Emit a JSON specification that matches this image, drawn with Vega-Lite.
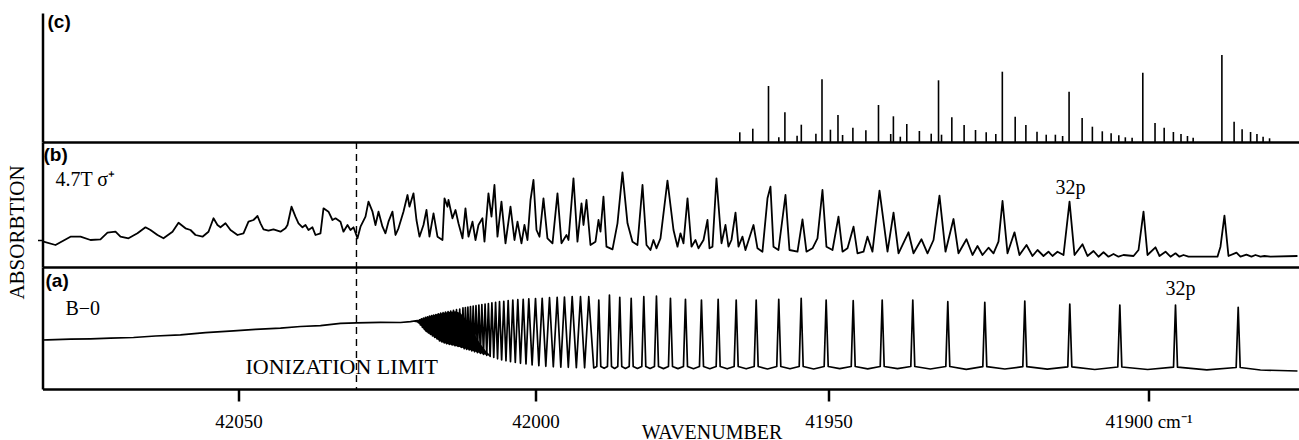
{
 "$schema": "https://vega.github.io/schema/vega-lite/v6.json",
 "background": "white",
 "autosize": {"type": "pad"},
 "padding": {"left": 6.5, "top": 13, "right": 0, "bottom": 0},
 "spacing": 0,
 "bounds": "flush",
 "resolve": {"scale": {"x": "independent", "y": "independent"}},
 "config": {
  "view": {"stroke": null},
  "font": "Liberation Serif",
  "axis": {"domainColor": "black", "domainWidth": 2.5, "tickColor": "black", "grid": false, "labelColor": "black", "titleColor": "black", "titleFontWeight": "normal", "labelFont": "Liberation Serif", "titleFont": "Liberation Serif"}
 },
 "datasets": {
  "c": [
   {"wn":41965.14,"v":9.7},{"wn":41962.92,"v":13.3},{"wn":41960.24,"v":56},{"wn":41958.48,"v":4.7},{"wn":41957.44,"v":29.7},
   {"wn":41955.36,"v":6.3},{"wn":41954.64,"v":17.3},{"wn":41952.15,"v":8.3},{"wn":41951.11,"v":62.7},{"wn":41949.70,"v":12.3},
   {"wn":41948.52,"v":27},{"wn":41947.80,"v":7},{"wn":41946.19,"v":14.3},{"wn":41944.16,"v":11.7},{"wn":41942.19,"v":37},
   {"wn":41940.28,"v":8},{"wn":41939.86,"v":25.7},{"wn":41938.78,"v":5.3},{"wn":41937.77,"v":18},{"wn":41935.80,"v":11},
   {"wn":41933.95,"v":8.3},{"wn":41932.81,"v":61.7},{"wn":41932.34,"v":7.3},{"wn":41930.73,"v":24.7},{"wn":41928.81,"v":17},
   {"wn":41927.03,"v":12},{"wn":41925.36,"v":9.7},{"wn":41923.86,"v":8},{"wn":41922.84,"v":70.3},{"wn":41920.83,"v":25.3},
   {"wn":41919.16,"v":17},{"wn":41917.42,"v":10.3},{"wn":41915.98,"v":7.3},{"wn":41914.55,"v":7.3},{"wn":41913.42,"v":6},
   {"wn":41912.41,"v":50.3},{"wn":41910.37,"v":24},{"wn":41908.77,"v":15.3},{"wn":41907.22,"v":10.7},{"wn":41905.84,"v":8.7},
   {"wn":41904.64,"v":6.7},{"wn":41903.62,"v":4.7},{"wn":41902.56,"v":4.3},{"wn":41900.89,"v":69.3},{"wn":41898.98,"v":19},
   {"wn":41897.55,"v":14.3},{"wn":41896.11,"v":10},{"wn":41894.92,"v":8},{"wn":41893.91,"v":6},{"wn":41893.02,"v":4.3},
   {"wn":41888.53,"v":87},{"wn":41886.62,"v":20.3},{"wn":41885.37,"v":12.7},{"wn":41884.05,"v":10},{"wn":41883.05,"v":8},
   {"wn":41882.09,"v":5.3},{"wn":41881.08,"v":3.7}
  ],
  "b": [
   {"wn":42082.83,"v":25.3},{"wn":42080.81,"v":22},{"wn":42078.29,"v":30.3},{"wn":42076.60,"v":30.3},{"wn":42074.92,"v":27},
   {"wn":42073.24,"v":27.7},{"wn":42072.06,"v":34.3},{"wn":42070.71,"v":35.3},{"wn":42069.87,"v":30.3},{"wn":42068.52,"v":28.7},
   {"wn":42067.01,"v":33.7},{"wn":42065.66,"v":39.7},{"wn":42064.82,"v":37},{"wn":42063.64,"v":32},{"wn":42062.63,"v":28.7},
   {"wn":42061.11,"v":35.3},{"wn":42060.10,"v":44.3},{"wn":42058.93,"v":38.7},{"wn":42058.08,"v":37},{"wn":42057.24,"v":32},
   {"wn":42056.06,"v":30.3},{"wn":42055.05,"v":35.3},{"wn":42054.21,"v":48.7},{"wn":42053.54,"v":42},{"wn":42053.03,"v":39.7},
   {"wn":42052.19,"v":43.7},{"wn":42051.35,"v":37},{"wn":42050.17,"v":32},{"wn":42049.16,"v":33.7},{"wn":42048.32,"v":45.3},
   {"wn":42047.48,"v":47},{"wn":42046.80,"v":51},{"wn":42046.30,"v":43.7},{"wn":42045.79,"v":37.7},{"wn":42044.95,"v":36.3},
   {"wn":42044.11,"v":37.7},{"wn":42042.93,"v":35.3},{"wn":42042.09,"v":38.7},{"wn":42041.75,"v":42},{"wn":42041.08,"v":60.3},
   {"wn":42040.41,"v":50.3},{"wn":42039.90,"v":43.7},{"wn":42039.23,"v":39.7},{"wn":42038.72,"v":42},{"wn":42038.22,"v":37},
   {"wn":42037.55,"v":39.7},{"wn":42037.04,"v":32},{"wn":42036.20,"v":33.7},{"wn":42035.69,"v":58.7},{"wn":42034.85,"v":55.3},
   {"wn":42034.18,"v":47},{"wn":42033.67,"v":48.7},{"wn":42032.83,"v":45.3},{"wn":42032.33,"v":35.3},{"wn":42031.65,"v":42},
   {"wn":42031.15,"v":37},{"wn":42030.64,"v":39.7},{"wn":42029.97,"v":28.7},{"wn":42029.46,"v":40.3},{"wn":42028.62,"v":50.3},
   {"wn":42028.12,"v":65.3},{"wn":42027.44,"v":55.3},{"wn":42026.94,"v":42},{"wn":42026.43,"v":55.3},{"wn":42025.76,"v":40.3},
   {"wn":42025.26,"v":33.7},{"wn":42024.75,"v":45.3},{"wn":42024.08,"v":55.3},{"wn":42023.57,"v":32},{"wn":42023.07,"v":38.7},
   {"wn":42022.23,"v":55.3},{"wn":42021.55,"v":72},{"wn":42021.22,"v":60.3},{"wn":42020.54,"v":73.7},{"wn":42020.04,"v":47},
   {"wn":42019.53,"v":30.3},{"wn":42018.86,"v":42},{"wn":42018.35,"v":57},{"wn":42017.85,"v":30.3},{"wn":42017.17,"v":53.7},
   {"wn":42016.50,"v":30.3},{"wn":42015.66,"v":27},{"wn":42015.32,"v":68.7},{"wn":42014.82,"v":60.3},{"wn":42014.65,"v":67},
   {"wn":42013.98,"v":48.7},{"wn":42013.47,"v":57},{"wn":42012.97,"v":43.7},{"wn":42012.29,"v":28.7},{"wn":42011.79,"v":58.7},
   {"wn":42011.28,"v":30.3},{"wn":42010.61,"v":45.3},{"wn":42010.10,"v":27},{"wn":42009.60,"v":42},{"wn":42008.93,"v":48.7},
   {"wn":42008.59,"v":25.3},{"wn":42007.92,"v":73.7},{"wn":42007.41,"v":50.3},{"wn":42006.91,"v":82},{"wn":42006.40,"v":30.3},
   {"wn":42005.73,"v":65.3},{"wn":42005.05,"v":23.7},{"wn":42004.21,"v":60.3},{"wn":42003.54,"v":27},{"wn":42003.03,"v":45.3},
   {"wn":42002.36,"v":23.7},{"wn":42001.86,"v":42},{"wn":42001.35,"v":27},{"wn":42000.84,"v":67},{"wn":42000.34,"v":87},
   {"wn":41999.83,"v":37},{"wn":41999.32,"v":30.3},{"wn":41998.64,"v":68.7},{"wn":41997.96,"v":28.7},{"wn":41997.10,"v":23.7},
   {"wn":41996.25,"v":73.7},{"wn":41995.57,"v":23.7},{"wn":41994.71,"v":32},{"wn":41994.37,"v":27},{"wn":41993.52,"v":88.7},
   {"wn":41992.84,"v":25.3},{"wn":41992.15,"v":63.7},{"wn":41991.81,"v":42},{"wn":41991.30,"v":67},{"wn":41990.62,"v":22},
   {"wn":41989.76,"v":25.3},{"wn":41989.25,"v":47},{"wn":41988.91,"v":35.3},{"wn":41988.40,"v":70.3},{"wn":41987.89,"v":20.3},
   {"wn":41986.86,"v":17.7},{"wn":41986.01,"v":43.7},{"wn":41985.16,"v":94.7},{"wn":41984.30,"v":43.7},{"wn":41983.45,"v":25.3},
   {"wn":41982.60,"v":22},{"wn":41981.74,"v":82},{"wn":41981.06,"v":22},{"wn":41980.38,"v":17},{"wn":41979.87,"v":27},
   {"wn":41979.36,"v":18.7},{"wn":41978.67,"v":28.7},{"wn":41977.48,"v":86.3},{"wn":41976.45,"v":37},{"wn":41975.77,"v":20.3},
   {"wn":41975.26,"v":33.7},{"wn":41974.75,"v":23.7},{"wn":41974.06,"v":68.7},{"wn":41973.38,"v":20.3},{"wn":41972.70,"v":27},
   {"wn":41972.19,"v":18.7},{"wn":41971.33,"v":27},{"wn":41970.65,"v":47},{"wn":41970.31,"v":18.7},{"wn":41969.80,"v":20.3},
   {"wn":41969.12,"v":88.7},{"wn":41968.26,"v":23.7},{"wn":41967.58,"v":42},{"wn":41967.07,"v":20.3},{"wn":41966.56,"v":27},
   {"wn":41965.87,"v":54.3},{"wn":41965.36,"v":20.3},{"wn":41964.68,"v":30.3},{"wn":41964.17,"v":17},{"wn":41962.80,"v":42},
   {"wn":41962.12,"v":18.7},{"wn":41961.27,"v":15.3},{"wn":41960.41,"v":68.7},{"wn":41959.90,"v":80.3},{"wn":41959.39,"v":20.3},
   {"wn":41958.54,"v":17},{"wn":41957.34,"v":72},{"wn":41956.66,"v":17},{"wn":41955.29,"v":15.3},{"wn":41954.44,"v":47.7},
   {"wn":41953.76,"v":15.3},{"wn":41952.73,"v":18.7},{"wn":41951.88,"v":28.7},{"wn":41951.03,"v":77},{"wn":41950.35,"v":20.3},
   {"wn":41949.375,"v":17},{"wn":41948.44,"v":50.3},{"wn":41947.81,"v":15.3},{"wn":41947.03,"v":18.7},{"wn":41946.09,"v":40.3},
   {"wn":41945.47,"v":13.7},{"wn":41944.53,"v":15.3},{"wn":41943.91,"v":30.3},{"wn":41943.13,"v":15.3},{"wn":41942.03,"v":76.3},
   {"wn":41940.78,"v":15.3},{"wn":41939.84,"v":54.3},{"wn":41939.06,"v":13.7},{"wn":41937.50,"v":34.7},{"wn":41936.72,"v":13.7},
   {"wn":41935.47,"v":27.7},{"wn":41934.53,"v":13.7},{"wn":41933.59,"v":27},{"wn":41932.66,"v":71.3},{"wn":41931.72,"v":15.3},
   {"wn":41930.47,"v":48},{"wn":41929.69,"v":13.7},{"wn":41928.44,"v":27.7},{"wn":41927.50,"v":12},{"wn":41926.72,"v":21},
   {"wn":41925.94,"v":12},{"wn":41925.00,"v":19.3},{"wn":41924.22,"v":13.7},{"wn":41923.44,"v":25.3},{"wn":41922.81,"v":66},
   {"wn":41922.03,"v":13.7},{"wn":41920.94,"v":34.7},{"wn":41920.16,"v":12},{"wn":41919.06,"v":22},{"wn":41918.13,"v":11},
   {"wn":41917.34,"v":17},{"wn":41916.41,"v":11},{"wn":41915.63,"v":15.3},{"wn":41915.00,"v":11},{"wn":41914.22,"v":15.3},
   {"wn":41913.28,"v":12},{"wn":41912.34,"v":65.3},{"wn":41911.56,"v":12},{"wn":41910.31,"v":22.7},{"wn":41909.53,"v":11},
   {"wn":41908.59,"v":16},{"wn":41907.81,"v":10.3},{"wn":41907.03,"v":14.7},{"wn":41906.25,"v":10.3},{"wn":41905.47,"v":13},
   {"wn":41904.69,"v":10.3},{"wn":41903.91,"v":12},{"wn":41902.34,"v":11},{"wn":41901.56,"v":17},{"wn":41900.78,"v":55.3},
   {"wn":41900.16,"v":12},{"wn":41898.91,"v":19.7},{"wn":41898.28,"v":11},{"wn":41897.34,"v":15.3},{"wn":41896.56,"v":10.3},
   {"wn":41895.78,"v":13.7},{"wn":41895.16,"v":10.3},{"wn":41894.53,"v":12},{"wn":41893.75,"v":10.3},{"wn":41889.22,"v":10.3},
   {"wn":41888.75,"v":20.3},{"wn":41888.13,"v":51.3},{"wn":41887.50,"v":11},{"wn":41886.25,"v":14.3},{"wn":41885.63,"v":10.3},
   {"wn":41884.69,"v":12.3},{"wn":41883.91,"v":10.3},{"wn":41883.28,"v":12},{"wn":41882.50,"v":10.3},{"wn":41881.88,"v":11},
   {"wn":41880.94,"v":10.3},{"wn":41876.72,"v":11}
  ],
  "a": [
   {"wn":42083.00,"v":49},{"wn":42082.15,"v":49.2},{"wn":42078.29,"v":49.8},{"wn":42074.92,"v":50.2},{"wn":42071.55,"v":50.9},
   {"wn":42067.68,"v":51.5},{"wn":42063.98,"v":53},{"wn":42059.77,"v":54.1},{"wn":42055.56,"v":56.4},{"wn":42050.84,"v":58.2},
   {"wn":42047.14,"v":59.7},{"wn":42042.93,"v":60.8},{"wn":42039.57,"v":62.5},{"wn":42036.20,"v":63.4},{"wn":42032.83,"v":65.6},
   {"wn":42030.14,"v":66.2},{"wn":42026.10,"v":66.6},{"wn":42022.73,"v":66.5},{"wn":42021.05,"v":67.3},
   {"wn":42019.87,"v":68.5},{"wn":42019.70,"v":66.5},{"wn":42019.53,"v":69.2},{"wn":42019.36,"v":64},{"wn":42019.20,"v":70.2},
   {"wn":42019.03,"v":61.5},{"wn":42018.86,"v":70.8},{"wn":42018.69,"v":59.5},{"wn":42018.52,"v":71.6},{"wn":42018.35,"v":57.5},
   {"wn":42018.19,"v":72.2},{"wn":42018.02,"v":56},{"wn":42017.85,"v":72.8},{"wn":42017.68,"v":54.5},{"wn":42017.51,"v":73.3},
   {"wn":42017.34,"v":53},{"wn":42017.17,"v":73.8},{"wn":42016.97,"v":51.5},{"wn":42016.77,"v":74.5},{"wn":42016.57,"v":50},
   {"wn":42016.37,"v":75.1},{"wn":42016.16,"v":48},{"wn":42015.96,"v":75.8},{"wn":42015.76,"v":47},{"wn":42015.56,"v":76.3},
   {"wn":42015.36,"v":46},{"wn":42015.15,"v":76.9},{"wn":42014.94,"v":45.2},{"wn":42014.72,"v":77.4},{"wn":42014.50,"v":44.6},
   {"wn":42014.28,"v":77.9},{"wn":42014.04,"v":44},{"wn":42013.81,"v":78.6},{"wn":42013.55,"v":43.2},{"wn":42013.30,"v":79.3},
   {"wn":42013.03,"v":42.5},{"wn":42012.76,"v":80},{"wn":42012.49,"v":41.6},
   {"wn":42012.21,"v":81.1},{"wn":42012.01,"v":40.2},{"wn":42011.80,"v":81.5},{"wn":42011.59,"v":39.5},{"wn":42011.38,"v":82},
   {"wn":42011.16,"v":39},{"wn":42010.95,"v":82.5},{"wn":42010.72,"v":38},{"wn":42010.49,"v":83},{"wn":42010.26,"v":37.2},
   {"wn":42010.02,"v":83.3},{"wn":42009.78,"v":36.4},{"wn":42009.53,"v":83.9},{"wn":42009.28,"v":35.5},{"wn":42009.03,"v":84.5},
   {"wn":42008.76,"v":34.6},{"wn":42008.49,"v":85},{"wn":42008.21,"v":33.6},{"wn":42007.93,"v":85.5},{"wn":42007.64,"v":32.6},
   {"wn":42007.34,"v":86.2},{"wn":42007.03,"v":31.6},{"wn":42006.72,"v":86.6},{"wn":42006.39,"v":30.2},{"wn":42006.06,"v":87.3},
   {"wn":42005.70,"v":29},{"wn":42005.34,"v":87.7},{"wn":42004.97,"v":28.2},{"wn":42004.60,"v":88.4},{"wn":42004.21,"v":27.3},
   {"wn":42003.82,"v":88.9},{"wn":42003.40,"v":26.5},{"wn":42002.98,"v":89.3},{"wn":42002.53,"v":25.7},{"wn":42002.07,"v":89.6},
   {"wn":42001.60,"v":25},{"wn":42001.13,"v":90.2},{"wn":42000.57,"v":24},{"wn":42000.00,"v":90.5},{"wn":41999.43,"v":23.4},
   {"wn":41998.86,"v":90.7},{"wn":41998.24,"v":22.7},{"wn":41997.61,"v":91.3},{"wn":41996.96,"v":22.2},{"wn":41996.30,"v":91.7},
   {"wn":41995.68,"v":21.9},{"wn":41995.06,"v":92},{"wn":41994.40,"v":21.7},{"wn":41993.74,"v":92.5},{"wn":41993.03,"v":21.4},
   {"wn":41992.32,"v":92.3},{"wn":41991.62,"v":21.2},{"wn":41990.91,"v":92.3},{"wn":41990.06,"v":21},
   {"wn":41989.54,"v":22.5},{"wn":41989.20,"v":89},{"wn":41988.86,"v":22.5},{"wn":41988.29,"v":20.7},
   {"wn":41987.72,"v":22.5},{"wn":41987.38,"v":94},{"wn":41987.03,"v":22.5},{"wn":41986.50,"v":20.6},
   {"wn":41985.96,"v":22.5},{"wn":41985.62,"v":91.7},{"wn":41985.28,"v":22.5},{"wn":41984.65,"v":20.6},
   {"wn":41984.01,"v":22.5},{"wn":41983.67,"v":90.7},{"wn":41983.33,"v":22.5},{"wn":41982.60,"v":20.5},
   {"wn":41981.86,"v":22.5},{"wn":41981.52,"v":92.3},{"wn":41981.18,"v":22.5},{"wn":41980.44,"v":20.5},
   {"wn":41979.70,"v":22.5},{"wn":41979.36,"v":93},{"wn":41979.01,"v":22.5},{"wn":41978.16,"v":20.4},
   {"wn":41977.31,"v":22.5},{"wn":41976.97,"v":90.7},{"wn":41976.62,"v":22.5},{"wn":41975.69,"v":20.4},
   {"wn":41974.75,"v":22.5},{"wn":41974.41,"v":89.7},{"wn":41974.06,"v":22.5},{"wn":41973.04,"v":20.3},
   {"wn":41972.02,"v":22.5},{"wn":41971.68,"v":89},{"wn":41971.33,"v":22.5},{"wn":41970.25,"v":20.3},
   {"wn":41969.17,"v":22.5},{"wn":41968.83,"v":89.7},{"wn":41968.49,"v":22.5},{"wn":41967.29,"v":20.2},
   {"wn":41966.10,"v":22.5},{"wn":41965.75,"v":89},{"wn":41965.41,"v":22.5},{"wn":41964.05,"v":20.2},
   {"wn":41962.68,"v":22.5},{"wn":41962.34,"v":89},{"wn":41962.00,"v":22.5},{"wn":41960.41,"v":20},
   {"wn":41958.83,"v":22.5},{"wn":41958.49,"v":89.7},{"wn":41958.14,"v":22.5},{"wn":41956.57,"v":20.2},
   {"wn":41955.00,"v":22.5},{"wn":41954.66,"v":90.7},{"wn":41954.32,"v":22.5},{"wn":41952.53,"v":20},
   {"wn":41950.74,"v":22.5},{"wn":41950.40,"v":89},{"wn":41950.05,"v":22.5},{"wn":41948.25,"v":20.3},
   {"wn":41946.45,"v":22.5},{"wn":41946.14,"v":88.3},{"wn":41945.83,"v":22.5},{"wn":41943.875,"v":20.2},
   {"wn":41941.92,"v":22.5},{"wn":41941.61,"v":89},{"wn":41941.30,"v":22.5},{"wn":41939.22,"v":20.3},
   {"wn":41937.14,"v":22.5},{"wn":41936.83,"v":89},{"wn":41936.52,"v":22.5},{"wn":41934.09,"v":20},
   {"wn":41931.67,"v":22.5},{"wn":41931.36,"v":87.3},{"wn":41931.05,"v":22.5},{"wn":41928.47,"v":19.6},
   {"wn":41925.89,"v":22.3},{"wn":41925.58,"v":86.7},{"wn":41925.27,"v":22.3},{"wn":41922.45,"v":20},
   {"wn":41919.64,"v":22.3},{"wn":41919.33,"v":88},{"wn":41919.02,"v":22.3},{"wn":41915.81,"v":19.8},
   {"wn":41912.61,"v":22.2},{"wn":41912.30,"v":85},{"wn":41911.98,"v":22.2},{"wn":41908.39,"v":19.5},
   {"wn":41904.80,"v":22},{"wn":41904.48,"v":84},{"wn":41904.17,"v":22},{"wn":41900.13,"v":19.5},
   {"wn":41896.09,"v":21.8},{"wn":41895.78,"v":84},{"wn":41895.47,"v":21.8},{"wn":41890.88,"v":19.2},
   {"wn":41886.30,"v":21.5},{"wn":41885.98,"v":81.7},{"wn":41885.67,"v":21.5},{"wn":41882.50,"v":19},
   {"wn":41876.72,"v":18}
  ],
  "wedge": [
   {"wn":42020.71,"lo":67.3,"hi":67.8},{"wn":42019.87,"lo":66.5,"hi":68.5},{"wn":42019.36,"lo":64,"hi":70},
   {"wn":42018.52,"lo":57.5,"hi":71.6},{"wn":42017.68,"lo":54.5,"hi":73},{"wn":42016.84,"lo":51,"hi":74.5},
   {"wn":42016.00,"lo":47.5,"hi":75.6},{"wn":42015.15,"lo":45.5,"hi":76.4},{"wn":42014.31,"lo":44.2,"hi":77.2},
   {"wn":42013.47,"lo":43,"hi":77.8},{"wn":42012.63,"lo":41.8,"hi":76},{"wn":42011.79,"lo":40.3,"hi":70},
   {"wn":42010.95,"lo":38.8,"hi":62},{"wn":42010.10,"lo":37.3,"hi":53},{"wn":42009.26,"lo":35.8,"hi":45},
   {"wn":42008.42,"lo":34.3,"hi":38.5},{"wn":42007.57,"lo":32.8,"hi":33.5}
  ],
  "limit": [{"wn": 42030.14}],
  "notes": [
   {"panel":"c","kind":"tag","wn":42082.16,"v":120,"label":"(c)"},
   {"panel":"b","kind":"tag","wn":42082.83,"v":112,"label":"(b)"},
   {"panel":"a","kind":"tag","wn":42082.49,"v":108,"label":"(a)"},
   {"panel":"b","kind":"note","wn":42080.81,"v":87,"label":"4.7T  σ⁺"},
   {"panel":"b","kind":"note","wn":41914.53,"v":79,"label":"32p"},
   {"panel":"a","kind":"note","wn":42079.13,"v":80,"label":"B−0"},
   {"panel":"a","kind":"note","wn":41897.34,"v":100,"label":"32p"},
   {"panel":"a","kind":"wide","wn":42048.82,"v":22,"label":"IONIZATION LIMIT"}
  ]
 },
 "vconcat": [
  {
   "width": 1257, "height": 129,
   "encoding": {
    "x": {"field": "wn", "type": "quantitative",
     "scale": {"domain": [42083, 42050, 42000, 41950, 41900, 41876.4], "range": [0, 196, 493, 786, 1106, 1257], "nice": false, "zero": false},
     "axis": {"title": null, "labels": false, "ticks": false, "grid": false, "domain": true}}
   },
   "layer": [
    {"data": {"name": "c"}, "mark": {"type": "rule", "color": "black", "strokeWidth": 1.6},
     "encoding": {
      "y": {"field": "v", "type": "quantitative", "scale": {"domain": [0, 129], "nice": false, "zero": false},
       "axis": {"title": null, "labels": false, "ticks": false, "grid": false, "domain": true}},
      "y2": {"datum": 0}}},
    {"data": {"name": "notes"}, "transform": [{"filter": "datum.panel == 'c'"}],
     "mark": {"type": "text", "align": "left", "baseline": "middle", "font": "Liberation Sans", "fontWeight": "bold", "fontSize": 19, "color": "black"},
     "encoding": {"y": {"field": "v", "type": "quantitative"}, "text": {"field": "label"}}}
   ]
  },
  {
   "width": 1257, "height": 125,
   "encoding": {
    "x": {"field": "wn", "type": "quantitative",
     "scale": {"domain": [42083, 42050, 42000, 41950, 41900, 41876.4], "range": [0, 196, 493, 786, 1106, 1257], "nice": false, "zero": false},
     "axis": {"title": null, "labels": false, "ticks": false, "grid": false, "domain": true}}
   },
   "layer": [
    {"data": {"name": "b"}, "mark": {"type": "line", "color": "black", "strokeWidth": 1.8, "strokeJoin": "round"},
     "encoding": {
      "y": {"field": "v", "type": "quantitative", "scale": {"domain": [0, 125], "nice": false, "zero": false},
       "axis": {"title": "ABSORBTION", "titleFontSize": 21, "titleX": -25, "titleY": 90, "titleAlign": "center", "titleBaseline": "middle",
        "values": [27], "labels": false, "ticks": true, "tickSize": 5, "tickWidth": 1.5, "grid": false, "domain": true}}}},
    {"data": {"name": "limit"}, "mark": {"type": "rule", "color": "black", "strokeWidth": 1.4, "strokeDash": [7, 5]}, "encoding": {}},
    {"data": {"name": "notes"}, "transform": [{"filter": "datum.panel == 'b' && datum.kind == 'tag'"}],
     "mark": {"type": "text", "align": "left", "baseline": "middle", "font": "Liberation Sans", "fontWeight": "bold", "fontSize": 19, "color": "black"},
     "encoding": {"y": {"field": "v", "type": "quantitative"}, "text": {"field": "label"}}},
    {"data": {"name": "notes"}, "transform": [{"filter": "datum.panel == 'b' && datum.kind == 'note'"}],
     "mark": {"type": "text", "align": "left", "baseline": "middle", "font": "Liberation Serif", "fontSize": 20, "color": "black"},
     "encoding": {"y": {"field": "v", "type": "quantitative"}, "text": {"field": "label"}}}
   ]
  },
  {
   "width": 1257, "height": 122,
   "encoding": {
    "x": {"field": "wn", "type": "quantitative",
     "scale": {"domain": [42083, 42050, 42000, 41950, 41900, 41876.4], "range": [0, 196, 493, 786, 1106, 1257], "nice": false, "zero": false},
     "axis": {"title": "WAVENUMBER", "titleFontSize": 20, "titleX": 669, "titleY": 33, "titleAlign": "center", "titleBaseline": "top",
      "values": [42050, 42000, 41950, 41900], "format": "d",
      "labelExpr": "datum.value == 41900 ? '41900 cm\u207b\u00b9' : datum.label",
      "labelFontSize": 19, "labelPadding": 11, "labelFlush": false, "labelOverlap": false,
      "ticks": true, "tickSize": 12, "tickWidth": 2.5, "grid": false, "domain": true}}
   },
   "layer": [
    {"data": {"name": "a"}, "mark": {"type": "line", "color": "black", "strokeWidth": 1.7, "strokeJoin": "round"},
     "encoding": {
      "y": {"field": "v", "type": "quantitative", "scale": {"domain": [0, 122], "nice": false, "zero": false},
       "axis": {"title": null, "labels": false, "ticks": false, "grid": false, "domain": true}}}},
    {"data": {"name": "wedge"}, "mark": {"type": "area", "color": "black", "opacity": 1},
     "encoding": {"y": {"field": "hi", "type": "quantitative"}, "y2": {"field": "lo"}}},
    {"data": {"name": "limit"}, "mark": {"type": "rule", "color": "black", "strokeWidth": 1.4, "strokeDash": [7, 5]}, "encoding": {}},
    {"data": {"name": "notes"}, "transform": [{"filter": "datum.panel == 'a' && datum.kind == 'tag'"}],
     "mark": {"type": "text", "align": "left", "baseline": "middle", "font": "Liberation Sans", "fontWeight": "bold", "fontSize": 19, "color": "black"},
     "encoding": {"y": {"field": "v", "type": "quantitative"}, "text": {"field": "label"}}},
    {"data": {"name": "notes"}, "transform": [{"filter": "datum.panel == 'a' && datum.kind == 'note'"}],
     "mark": {"type": "text", "align": "left", "baseline": "middle", "font": "Liberation Serif", "fontSize": 20, "color": "black"},
     "encoding": {"y": {"field": "v", "type": "quantitative"}, "text": {"field": "label"}}},
    {"data": {"name": "notes"}, "transform": [{"filter": "datum.panel == 'a' && datum.kind == 'wide'"}],
     "mark": {"type": "text", "align": "left", "baseline": "middle", "font": "Liberation Serif", "fontSize": 22, "color": "black"},
     "encoding": {"y": {"field": "v", "type": "quantitative"}, "text": {"field": "label"}}}
   ]
  }
 ]
}
